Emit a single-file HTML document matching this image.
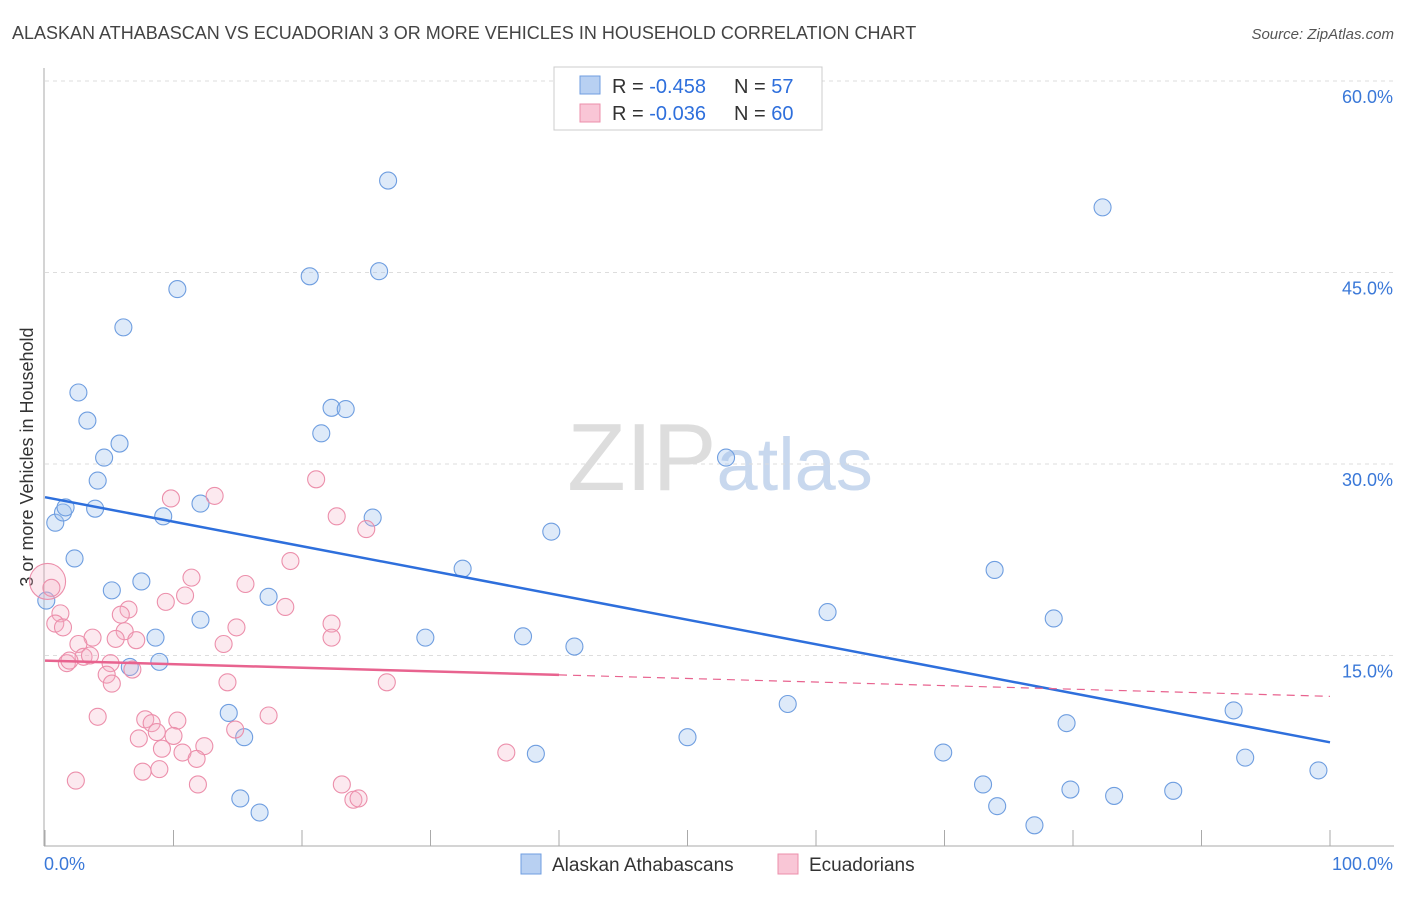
<!DOCTYPE html>
<html><head><meta charset="utf-8"><style>
body{margin:0;background:#fff;font-family:"Liberation Sans",sans-serif;}
svg text{font-family:"Liberation Sans",sans-serif;}
</style></head><body>
<svg id="chart" width="1406" height="892" xmlns="http://www.w3.org/2000/svg">
<text x="12" y="39" font-size="18" fill="#444">ALASKAN ATHABASCAN VS ECUADORIAN 3 OR MORE VEHICLES IN HOUSEHOLD CORRELATION CHART</text>
<text x="1394" y="39" font-size="15" fill="#555" text-anchor="end" font-style="italic">Source: ZipAtlas.com</text>
<text transform="translate(33,457) rotate(-90)" font-size="18" fill="#333" text-anchor="middle">3 or more Vehicles in Household</text>
<text x="720" y="490" font-size="96" text-anchor="middle" fill="#ddd" font-family="Liberation Serif">ZIP<tspan fill="#c8d8ee" font-family="Liberation Sans" font-size="74">atlas</tspan></text>
<g id="grid"></g><g id="axes"></g><g id="pts"></g><g id="trend"></g>
<g>
<rect x="554" y="67" width="268" height="63" fill="#fff" stroke="#ccc"/>
<rect x="580" y="76" width="20" height="18" fill="#b8d0f2" stroke="#6f9ee0"/>
<rect x="580" y="104" width="20" height="18" fill="#f9c6d6" stroke="#ec8fab"/>
<text x="612" y="93" font-size="20" fill="#333">R = <tspan fill="#2e6fdc">-0.458</tspan></text>
<text x="734" y="93" font-size="20" fill="#333">N = <tspan fill="#2e6fdc">57</tspan></text>
<text x="612" y="120" font-size="20" fill="#333">R = <tspan fill="#2e6fdc">-0.036</tspan></text>
<text x="734" y="120" font-size="20" fill="#333">N = <tspan fill="#2e6fdc">60</tspan></text>
</g>
<g>
<rect x="521" y="854" width="20" height="20" fill="#b8d0f2" stroke="#6f9ee0"/>
<text x="552" y="871" font-size="19" fill="#333">Alaskan Athabascans</text>
<rect x="778" y="854" width="20" height="20" fill="#f9c6d6" stroke="#ec8fab"/>
<text x="809" y="871" font-size="19" fill="#333">Ecuadorians</text>
</g>
</svg>
<script>
const blueX=[0.1,0.8,1.4,1.6,2.3,2.6,3.3,3.9,4.1,4.6,5.2,5.8,6.1,6.6,7.5,8.6,8.9,9.2,10.3,12.1,12.1,14.3,15.2,15.5,16.7,17.4,20.6,21.5,22.3,23.4,25.5,26.0,26.7,29.6,32.5,37.2,38.2,39.4,41.2,50.0,53.0,57.8,60.9,69.9,73.0,73.9,74.1,77.0,78.5,79.5,79.8,82.3,83.2,87.8,92.5,93.4,99.1];
const blueY=[19.3,25.4,26.2,26.6,22.6,35.6,33.4,26.5,28.7,30.5,20.1,31.6,40.7,14.1,20.8,16.4,14.5,25.9,43.7,26.9,17.8,10.5,3.8,8.6,2.7,19.6,44.7,32.4,34.4,34.3,25.8,45.1,52.2,16.4,21.8,16.5,7.3,24.7,15.7,8.6,30.5,11.2,18.4,7.4,4.9,21.7,3.2,1.7,17.9,9.7,4.5,50.1,4.0,4.4,10.7,7.0,6.0];
const pinkX=[21.1,9.8,13.2,22.7,25.0,19.1,0.2,0.5,11.4,15.6,9.4,10.9,6.5,5.9,18.7,1.2,0.8,1.4,3.7,2.6,6.2,5.5,7.1,14.9,13.9,22.3,22.3,1.7,3.0,3.5,5.1,6.8,4.8,5.2,14.2,26.6,4.1,7.8,8.3,10.3,8.7,10.0,7.3,17.4,14.8,12.4,10.7,11.8,9.1,2.4,7.6,8.9,11.9,23.1,24.0,24.4,35.9,1.9];
const pinkY=[28.8,27.3,27.5,25.9,24.9,22.4,20.8,20.3,21.1,20.6,19.2,19.7,18.6,18.2,18.8,18.3,17.5,17.2,16.4,15.9,16.9,16.3,16.2,17.2,15.9,17.5,16.4,14.4,14.9,15.0,14.4,13.9,13.5,12.8,12.9,12.9,10.2,10.0,9.7,9.9,9.0,8.7,8.5,10.3,9.2,7.9,7.4,6.9,7.7,5.2,5.9,6.1,4.9,4.9,3.7,3.8,7.4,14.6];
const yTicks=[15,30,45,60];
const yTickLabels=["15.0%","30.0%","45.0%","60.0%"];
const xTicks=[0,10,20,30,40,50,60,70,80,90,100];
const blueTrend=[27.4,8.2];
const pinkTrend=[14.6,11.8];
const pinkSolidEnd=40;

const NS="http://www.w3.org/2000/svg";
const sx=v=>45+v*12.85, sy=v=>847-v*12.767;
function mk(p,t,a){const e=document.createElementNS(NS,t);for(const k in a)e.setAttribute(k,a[k]);document.getElementById(p).appendChild(e);return e;}
yTicks.forEach((t,i)=>{
 const l=mk('grid','line',{x1:45,x2:1394,y1:sy(t),y2:sy(t),stroke:'#ddd','stroke-dasharray':'4,4'});
 
 
 const tx=mk('grid','text',{x:1393,y:sy(t)+22,'font-size':18,fill:'#3a78d8','text-anchor':'end'});tx.textContent=yTickLabels[i];
 
 
});
mk('axes','line',{x1:44,x2:44,y1:68,y2:846,stroke:'#aaa'});
mk('axes','line',{x1:44,x2:1394,y1:846,y2:846,stroke:'#aaa'});
xTicks.forEach(t=>{const l=mk('axes','line',{x1:sx(t),x2:sx(t),y1:830,y2:846,stroke:'#aaa'});
 
 });
let a=mk('axes','text',{x:44,y:870,'font-size':18,fill:'#3a78d8'});a.textContent='0.0%';
a=mk('axes','text',{x:1393,y:870,'font-size':18,fill:'#3a78d8','text-anchor':'end'});a.textContent='100.0%';
blueX.forEach((x,i)=>{const c=mk('pts','circle',{cx:sx(x),cy:sy(blueY[i]),r:8.5,fill:'rgba(160,195,238,0.35)',stroke:'#6f9ee0','stroke-width':1.1});
 
 });
pinkX.forEach((x,i)=>{const c=mk('pts','circle',{cx:sx(x),cy:sy(pinkY[i]),r:i==6?18:8.5,fill:'rgba(246,175,198,0.28)',stroke:'#ec8fab','stroke-width':1.1});
 
 });
let t=mk('trend','line',{x1:sx(0),y1:sy(blueTrend[0]),x2:sx(100),y2:sy(blueTrend[1]),stroke:'#2e6fdc','stroke-width':2.5});


const pm=v=>pinkTrend[0]+(pinkTrend[1]-pinkTrend[0])*v/100;
t=mk('trend','line',{x1:sx(0),y1:sy(pm(0)),x2:sx(pinkSolidEnd),y2:sy(pm(pinkSolidEnd)),stroke:'#e8638f','stroke-width':2.5});


t=mk('trend','line',{x1:sx(pinkSolidEnd),y1:sy(pm(pinkSolidEnd)),x2:sx(100),y2:sy(pm(100)),stroke:'#e8638f','stroke-width':1.2,'stroke-dasharray':'8,6'});


</script>
</body></html>
